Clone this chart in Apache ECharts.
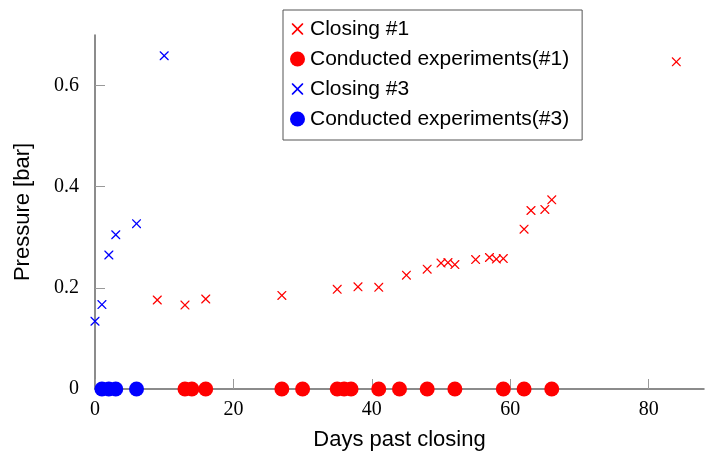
<!DOCTYPE html>
<html>
<head>
<meta charset="utf-8">
<script src="https://cdn.jsdelivr.net/npm/echarts@6/dist/echarts.min.js"></script>
<style>html,body{margin:0;padding:0;background:#fff;}#c{width:706px;height:456px;}</style>
</head>
<body>
<div id="c"></div>
<script>
const closing1Days = [9,13,16,27,35,38,41,45,48,50,51,52,55,57,58,59,62,63,65,66,84];
const closing1P = [0.176,0.166,0.178,0.185,0.197,0.202,0.201,0.225,0.237,0.249,0.250,0.246,0.256,0.260,0.257,0.258,0.316,0.353,0.355,0.374,0.647];
const closing3Days = [0,1,2,3,6,10];
const closing3P = [0.134,0.167,0.265,0.305,0.327,0.659];
const exp1Days = [13,14,16,27,30,35,36,37,41,44,48,52,59,62,66];
const exp3Days = [1,2,3,6];
const xTicks = [0,20,40,60,80];
const yTicks = [0,0.2,0.4,0.6];
const seriesNames = ['Closing #1','Conducted experiments(#1)','Closing #3','Conducted experiments(#3)'];

const crossPath = 'path://M0,0L1,0L5,4L9,0L10,0L10,1L6,5L10,9L10,10L9,10L5,6L1,10L0,10L0,9L4,5L0,1Z';
const crossLegend = 'path://M-1.6,-1.6L-1.6,-1.6ZM11.6,11.6L11.6,11.6ZM0,0L1,0L5,4L9,0L10,0L10,1L6,5L10,9L10,10L9,10L5,6L1,10L0,10L0,9L4,5L0,1Z';

const zip = (xs, ys) => xs.map((x, i) => [x, ys[i]]);
const atZero = xs => xs.map(x => [x, 0]);

const chart = echarts.init(document.getElementById('c'), null, {renderer: 'canvas'});
chart.setOption({
  animation: false,
  backgroundColor: '#fff',
  grid: {left: 95, right: 2, top: 35, bottom: 65, containLabel: false},
  legend: {
    orient: 'vertical',
    left: 283, top: 10,
    padding: [8.5, 13, 10.5, 7],
    itemGap: 9,
    itemWidth: 15, itemHeight: 15,
    borderColor: '#555', borderWidth: 1,
    textStyle: {fontFamily: 'Liberation Sans', fontSize: 21, color: '#000', padding: [0,0,0,0]},
    data: [
      {name: seriesNames[0], icon: crossLegend},
      {name: seriesNames[1], icon: 'circle'},
      {name: seriesNames[2], icon: crossLegend},
      {name: seriesNames[3], icon: 'circle'}
    ]
  },
  xAxis: {
    type: 'value', min: 0, max: 88,
    name: 'Days past closing', nameLocation: 'middle', nameGap: 40,
    nameTextStyle: {fontFamily: 'Liberation Sans', fontSize: 22, color: '#000'},
    axisLine: {show: true, lineStyle: {color: '#666', width: 1.5}},
    axisTick: {show: true, inside: true, length: 10, lineStyle: {color: '#999'}, customValues: xTicks},
    axisLabel: {fontFamily: 'Liberation Serif', fontSize: 20, color: '#000', margin: 11, customValues: xTicks},
    splitLine: {show: false}
  },
  yAxis: {
    type: 'value', min: 0, max: 0.7,
    name: 'Pressure [bar]', nameLocation: 'middle', nameGap: 61,
    nameTextStyle: {fontFamily: 'Liberation Sans', fontSize: 22, color: '#000'},
    axisLine: {show: true, lineStyle: {color: '#666', width: 1.5}},
    axisTick: {show: true, inside: true, length: 10, lineStyle: {color: '#999'}, customValues: yTicks},
    axisLabel: {fontFamily: 'Liberation Serif', fontSize: 20, color: '#000', margin: 16, customValues: yTicks},
    splitLine: {show: false}
  },
  series: [
    {name: seriesNames[0], type: 'scatter', symbol: crossPath, symbolSize: 9, clip: false,
     itemStyle: {color: '#ff0000', opacity: 1}, data: zip(closing1Days, closing1P)},
    {name: seriesNames[1], type: 'scatter', symbol: 'circle', symbolSize: 15, clip: false,
     itemStyle: {color: '#ff0000', opacity: 1}, data: atZero(exp1Days)},
    {name: seriesNames[2], type: 'scatter', symbol: crossPath, symbolSize: 9, clip: false,
     itemStyle: {color: '#0000ff', opacity: 1}, data: zip(closing3Days, closing3P)},
    {name: seriesNames[3], type: 'scatter', symbol: 'circle', symbolSize: 15, clip: false,
     itemStyle: {color: '#0000ff', opacity: 1}, data: atZero(exp3Days)}
  ]
});
</script>
</body>
</html>
